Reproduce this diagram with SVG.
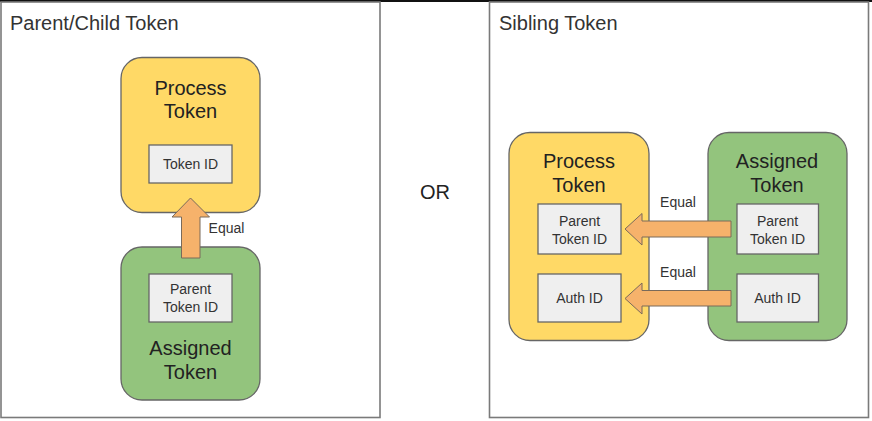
<svg xmlns="http://www.w3.org/2000/svg" width="872" height="421" viewBox="0 0 872 421">
<style>
text{font-family:"Liberation Sans",Arial,sans-serif;fill:#222;text-anchor:middle}
.panel{fill:#fff;stroke:#7a7a7a;stroke-width:1.6}
.title{font-size:20px;text-anchor:start;fill:#333}
.proc{fill:#ffd966;stroke:#666;stroke-width:1.3}
.asg{fill:#93c47d;stroke:#666;stroke-width:1.3}
.id{fill:#efefef;stroke:#666;stroke-width:1.3}
.big{font-size:20px}
.small{font-size:14px;fill:#333}
.arrow{fill:#f6b26b;stroke:#7a6a5a;stroke-width:1}
</style>
<rect x="0" y="0" width="872" height="421" fill="#fff"/>
<rect x="0" y="0" width="872" height="2" fill="#111"/>
<g id="panel-parent-child">
<rect class="panel" x="1" y="2" width="379" height="415.5"/>
<text class="title" x="10" y="30">Parent/Child Token</text>
</g>
<g id="panel-sibling">
<rect class="panel" x="489.5" y="2" width="379" height="415.5"/>
<text class="title" x="499" y="30">Sibling Token</text>
</g>
<g id="or-label"><text class="big" x="435" y="199">OR</text></g>
<g id="pc-process-token">
<rect class="proc" x="121" y="57.5" width="139" height="155" rx="21"/>
<text class="big" x="190.5" y="95">Process</text>
<text class="big" x="190.5" y="118">Token</text>
</g>
<g id="pc-token-id">
<rect class="id" x="149" y="145" width="83" height="38"/>
<text class="small" x="190.5" y="169">Token ID</text>
</g>
<g id="pc-assigned-token">
<rect class="asg" x="121" y="247" width="139" height="153" rx="21"/>
<text class="big" x="190.5" y="355">Assigned</text>
<text class="big" x="190.5" y="379">Token</text>
</g>
<g id="pc-parent-token-id">
<rect class="id" x="149" y="274" width="83" height="48"/>
<text class="small" x="190.5" y="294">Parent</text>
<text class="small" x="190.5" y="312">Token ID</text>
</g>
<g id="sb-process-token">
<rect class="proc" x="509" y="132.5" width="140" height="208" rx="21"/>
<text class="big" x="579" y="168">Process</text>
<text class="big" x="579" y="192">Token</text>
</g>
<g id="sb-proc-parent-token-id">
<rect class="id" x="538" y="204" width="83" height="50"/>
<text class="small" x="579.5" y="226">Parent</text>
<text class="small" x="579.5" y="244">Token ID</text>
</g>
<g id="sb-proc-auth-id">
<rect class="id" x="538" y="274" width="83" height="48"/>
<text class="small" x="579.5" y="303">Auth ID</text>
</g>
<g id="sb-assigned-token">
<rect class="asg" x="708" y="132.5" width="139" height="208" rx="21"/>
<text class="big" x="777" y="168">Assigned</text>
<text class="big" x="777" y="192">Token</text>
</g>
<g id="sb-asg-parent-token-id">
<rect class="id" x="737" y="204" width="81.5" height="50"/>
<text class="small" x="777.5" y="226">Parent</text>
<text class="small" x="777.5" y="244">Token ID</text>
</g>
<g id="sb-asg-auth-id">
<rect class="id" x="737" y="274" width="81.5" height="48"/>
<text class="small" x="777.5" y="303">Auth ID</text>
</g>
<g id="connectors">
<polygon class="arrow" points="190.5,198 209.5,217 200,217 200,258 181.5,258 181.5,217 172,217"/>
<text class="small" x="226.5" y="233">Equal</text>
<polygon class="arrow" points="625,229 642,213.5 642,221 731,221 731,237 642,237 642,245"/>
<text class="small" x="678" y="207">Equal</text>
<polygon class="arrow" points="625,298.5 642,283 642,290.5 731,290.5 731,306 642,306 642,314"/>
<text class="small" x="678" y="277">Equal</text>
</g>
</svg>
